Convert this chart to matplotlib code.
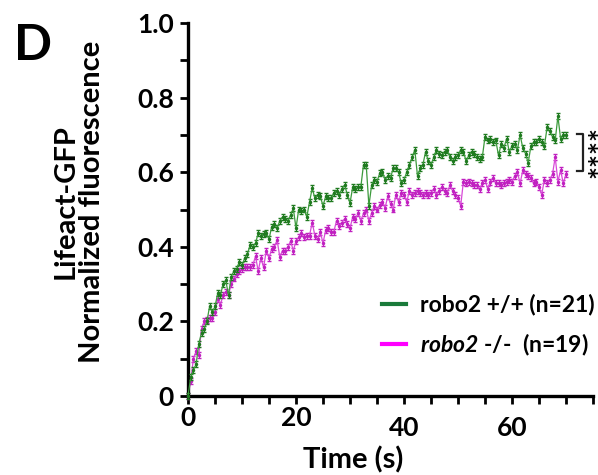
import numpy as np
import matplotlib
matplotlib.use("Agg")
import matplotlib.pyplot as plt
from matplotlib.lines import Line2D
from matplotlib.transforms import ScaledTranslation

plt.rcParams['font.family'] = ['Lato', 'DejaVu Sans']
plt.rcParams['font.weight'] = 'bold'
plt.rcParams['mathtext.fontset'] = 'custom'
plt.rcParams['mathtext.rm'] = 'Lato:italic:bold'
plt.rcParams['mathtext.it'] = 'Lato:italic:bold'
plt.rcParams['mathtext.bf'] = 'Lato:bold'

# time points (s), one frame every 0.5 s
time = np.arange(0, 70.5, 0.5)

# robo2 +/+ (n=21)
wt = [0.00, 0.05, 0.07, 0.085, 0.14, 0.17, 0.18, 0.20, 0.24, 0.225,
      0.24, 0.275, 0.27, 0.30, 0.31, 0.27, 0.32, 0.335, 0.34, 0.36,
      0.35, 0.37, 0.38, 0.405, 0.40, 0.41, 0.436, 0.43, 0.435, 0.436,
      0.42, 0.454, 0.46, 0.45, 0.47, 0.48, 0.475, 0.47, 0.485, 0.503,
      0.45, 0.50, 0.495, 0.50, 0.48, 0.52, 0.557, 0.53, 0.54, 0.535,
      0.51, 0.535, 0.53, 0.53, 0.545, 0.55, 0.54, 0.555, 0.566, 0.54,
      0.517, 0.56, 0.555, 0.56, 0.56, 0.62, 0.62, 0.51, 0.565, 0.58,
      0.575, 0.597, 0.60, 0.58, 0.59, 0.585, 0.61, 0.61, 0.60, 0.57,
      0.58, 0.60, 0.62, 0.64, 0.66, 0.59, 0.61, 0.62, 0.655, 0.63,
      0.62, 0.64, 0.66, 0.65, 0.645, 0.655, 0.66, 0.64, 0.63, 0.64,
      0.645, 0.66, 0.655, 0.63, 0.645, 0.655, 0.65, 0.64, 0.635, 0.64,
      0.695, 0.685, 0.69, 0.68, 0.685, 0.645, 0.675, 0.665, 0.69, 0.655,
      0.67, 0.675, 0.66, 0.70, 0.665, 0.65, 0.625, 0.67, 0.68, 0.68,
      0.69, 0.68, 0.67, 0.72, 0.71, 0.695, 0.685, 0.75, 0.69, 0.70,
      0.70]

# robo2 -/- (n=19)
ko = [0.00, 0.04, 0.10, 0.12, 0.11, 0.18, 0.20, 0.205, 0.21, 0.21,
      0.225, 0.26, 0.245, 0.27, 0.28, 0.27, 0.30, 0.315, 0.326, 0.335,
      0.34, 0.345, 0.345, 0.345, 0.35, 0.375, 0.335, 0.37, 0.345, 0.39,
      0.37, 0.395, 0.40, 0.418, 0.373, 0.39, 0.39, 0.40, 0.415, 0.39,
      0.415, 0.425, 0.437, 0.425, 0.43, 0.43, 0.465, 0.43, 0.42, 0.44,
      0.41, 0.445, 0.45, 0.44, 0.44, 0.47, 0.455, 0.465, 0.475, 0.46,
      0.45, 0.48, 0.475, 0.49, 0.47, 0.49, 0.50, 0.47, 0.49, 0.51,
      0.50, 0.512, 0.52, 0.505, 0.535, 0.515, 0.50, 0.54, 0.52, 0.545,
      0.54, 0.52, 0.55, 0.54, 0.545, 0.55, 0.545, 0.54, 0.545, 0.54,
      0.545, 0.555, 0.54, 0.55, 0.56, 0.55, 0.545, 0.565, 0.55, 0.54,
      0.53, 0.51, 0.575, 0.57, 0.575, 0.57, 0.565, 0.565, 0.555, 0.57,
      0.58, 0.555, 0.575, 0.585, 0.57, 0.57, 0.565, 0.57, 0.575, 0.58,
      0.575, 0.59, 0.60, 0.57, 0.605, 0.595, 0.59, 0.585, 0.57, 0.575,
      0.56, 0.54, 0.58, 0.57, 0.58, 0.595, 0.64, 0.575, 0.605, 0.57,
      0.595]

sem_wt = 0.008
sem_ko = 0.008

# "robo2" of the mutant is in italics (mathtext rm font set to italic above)
labels = ["robo2 +/+ (n=21)", r"$\mathrm{robo2}$ -/-  (n=19)"]

fig = plt.figure(figsize=(5.98, 4.75), dpi=100)
ax = fig.add_axes([188/598, 1-396/475, 405/598, 373/475])

ax.errorbar(time, wt, yerr=sem_wt, color='#3c9a3c', ecolor='#1f7a1f', lw=0.9,
            marker='.', ms=3, mfc='#1f7a1f', mec='#1f7a1f', elinewidth=0.8,
            capsize=1.2, clip_on=False, zorder=3)
ax.errorbar(time, ko, yerr=sem_ko, color='#d84ad8', ecolor='#c020c0', lw=0.9,
            marker='.', ms=3, mfc='#c020c0', mec='#c020c0', elinewidth=0.8,
            capsize=1.2, clip_on=False, zorder=2)

ax.set_xlim(0, 75)
ax.set_ylim(0, 1.0)
ax.set_xticks([0, 20, 40, 60])
ax.set_xticks(np.arange(0, 76, 5), minor=True)
ax.set_yticks([0, 0.2, 0.4, 0.6, 0.8, 1.0])
ax.set_yticklabels(['0', '0.2', '0.4', '0.6', '0.8', '1.0'])
ax.set_yticks(np.arange(0, 1.01, 0.1), minor=True)
for s in ['top', 'right']:
    ax.spines[s].set_visible(False)
for s in ['left', 'bottom']:
    ax.spines[s].set_linewidth(2.4)
ax.tick_params(which='both', direction='out', length=6, width=2, labelsize=19)
ax.tick_params(axis='x', pad=1)
ax.tick_params(axis='y', pad=4)

# labels "40" and "60" sit a bit lower in the original
for tk in ax.xaxis.get_major_ticks()[2:]:
    tk.label1.set_transform(tk.label1.get_transform()
                            + ScaledTranslation(0, -0.1, fig.dpi_scale_trans))

ax.set_xlabel("Time (s)", fontsize=21, fontweight='bold')
ax.xaxis.set_label_coords((353-188)/405, -0.135)
ax.set_ylabel("Lifeact-GFP\nNormalized fluorescence", fontsize=21,
              fontweight='bold', linespacing=1.0)
ax.yaxis.set_label_coords(-0.205, 0.52)

fig.text(14/598, 1-60/475, "D", fontsize=36, fontweight='bold')

# significance bracket
ax.plot([72.0, 73.1, 73.1, 72.0], [0.702, 0.702, 0.603, 0.603], color='#222222',
        lw=1.6, clip_on=False)
ax.text(73.9, 0.655, "****", rotation=90, fontsize=22, fontweight='bold',
        ha='left', va='center', clip_on=False)

handles = [Line2D([], [], color='#1a7a3a', lw=3),
           Line2D([], [], color='#ff00ff', lw=3)]
ax.legend(handles, labels, loc='upper left', bbox_to_anchor=(382/598, 1-294/475),
          bbox_transform=fig.transFigure, frameon=False, fontsize=16.5,
          handlelength=1.05, handletextpad=0.6, labelspacing=0.7,
          borderpad=0, borderaxespad=0)

fig.savefig("out.png", dpi=100)
